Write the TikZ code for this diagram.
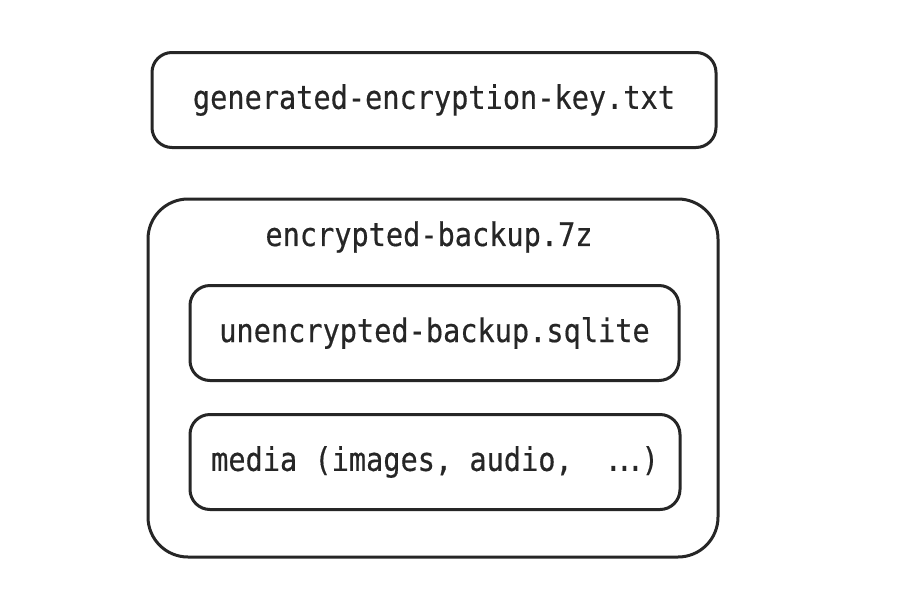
\documentclass[tikz,border=0pt]{standalone}
\usepackage{fontspec}
\newfontfamily\codefont[FakeStretch=0.88,FakeBold=0.5]{DejaVu Sans Mono}
\newlength\cellw
\newcommand\tightdots{\settowidth\cellw{x}\hbox to 2\cellw{\hss.\kern-0.36\cellw.\kern-0.36\cellw.\hss}}
\definecolor{ink}{HTML}{262626}
\begin{document}
\begin{tikzpicture}[x=1pt,y=-1pt,
  box/.style={draw=ink, line width=3pt, rounded corners=20pt, inner sep=0pt,
    font=\codefont\fontsize{32.5}{36}\selectfont, text=ink},
  lbl/.style={inner sep=0pt, font=\codefont\fontsize{32.5}{36}\selectfont, text=ink}]
\useasboundingbox[fill=white] (0,0) rectangle (900,614);
\node[box, minimum width=564pt, minimum height=95pt] (key) at (434,100) {generated-encryption-key.txt};
\node[box, rounded corners=40pt, minimum width=570pt, minimum height=358pt] (outer) at (433,378) {};
\node[lbl] (outerlbl) at (429,237) {encrypted-backup.7z};
\node[box, minimum width=489pt, minimum height=95pt] (sqlite) at (434.5,333) {unencrypted-backup.sqlite};
\node[box, minimum width=490pt, minimum height=95pt] (media) at (435,462) {media (images, audio,\ \ \tightdots)};
\end{tikzpicture}
\end{document}
